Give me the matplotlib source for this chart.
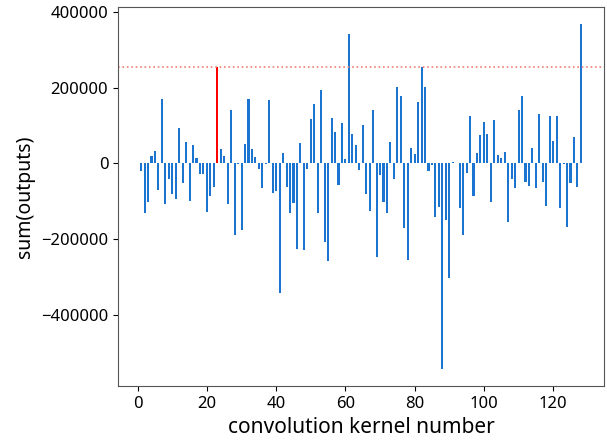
import numpy as np
from matplotlib import pyplot as plt

# sum of outputs per convolution kernel (kernels 1..128)
kernel_ids = np.arange(1, 129)
sum_outputs = [
    -20000, -130000, -103000, 20000, 33000, -71000, 169000, -107000,
    -42000, -81000, -95000, 94000, -53000, 57000, -100000, 48000,
    13000, -28000, -28000, -128000, -85000, -63000, 256000, 39000,
    19000, -108000, 141000, -190000, -2000, -175000, 51000, 170000,
    39000, 17000, -16000, -66000, -2000, 168000, -78000, -72000,
    -342000, 28000, -63000, -130000, -104000, -225000, 53000, -230000,
    -16000, 117000, 157000, -130000, 194000, -209000, -259000, 119000,
    84000, -58000, 107000, 12000, 341000, 77000, 48000, -18000,
    102000, -81000, -125000, 142000, -247000, -31000, -101000, -130000,
    56000, -41000, 203000, 177000, -172000, -256000, 40000, 25000,
    163000, 254000, 203000, -21000, -3000, -141000, -115000, -543000,
    -150000, -303000, 4000, 0, -117000, -189000, -26000, 126000,
    -87000, 27000, 75000, 110000, 77000, -102000, 115000, 22000,
    13000, 30000, -155000, -41000, -64000, 140000, 178000, -49000,
    -61000, 41000, -66000, 131000, -49000, -112000, 126000, 60000,
    126000, -117000, -2000, -168000, -53000, 71000, -62000, 368000,
]
highlight_id = 23

plt.rcParams['font.family'] = ['Noto Sans', 'DejaVu Sans']

fig = plt.figure(figsize=(6.07, 4.40), dpi=100)
ax = fig.add_axes([118 / 607, 1 - 386 / 440, (604 - 118) / 607, (386 - 7) / 440])

vals = np.array(sum_outputs)
colors = ['red' if k == highlight_id else '#1a74d0' for k in kernel_ids]
ax.bar(kernel_ids, vals, width=0.6, color=colors)
# level of the selected kernel as a dotted line
hv = vals[highlight_id - 1]
ax.axhline(hv, color='#f08070', linestyle=':', linewidth=1.2)

ax.set_xlabel('convolution kernel number', fontsize=15)
ax.set_ylabel('sum(outputs)', fontsize=14)
ax.tick_params(labelsize=12)
for s in ax.spines.values():
    s.set_color('#555555')

fig.savefig('out.png', dpi=100)
